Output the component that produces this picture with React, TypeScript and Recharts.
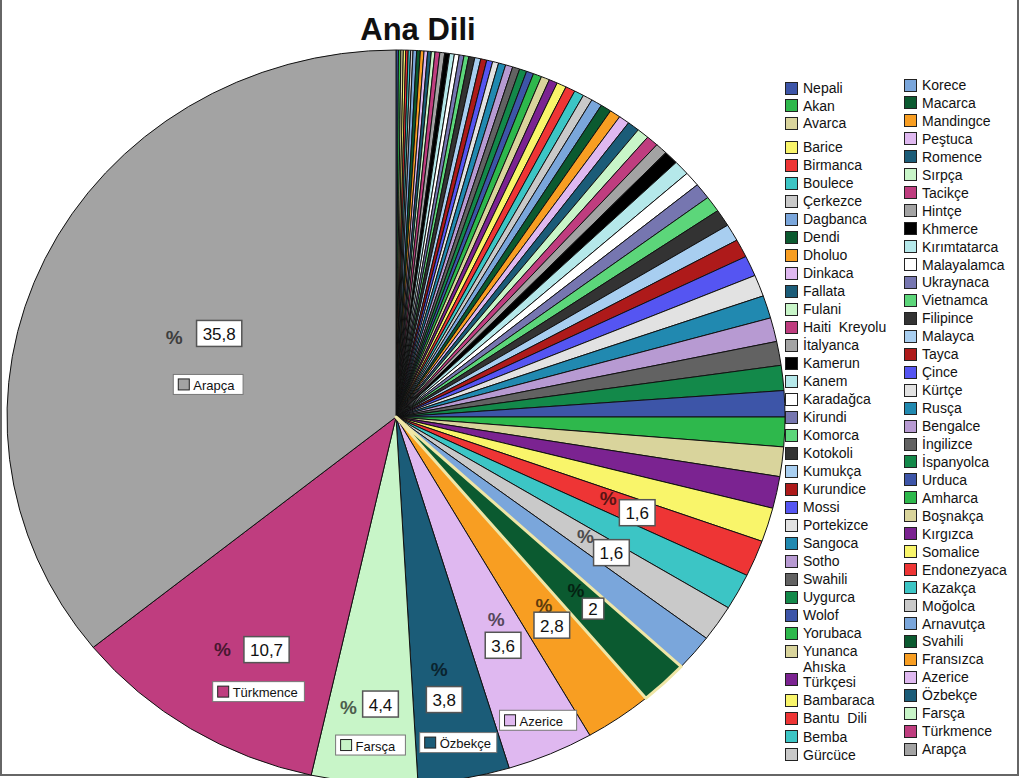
import React from 'react';
import { PieChart, Pie, Cell } from 'recharts';

// legend columns, in slice order (clockwise from 12 o'clock)
const leftColumn = [
  'Nepali', 'Akan', 'Avarca', 'Barice', 'Birmanca', 'Boulece', 'Çerkezce', 'Dagbanca', 'Dendi',
  'Dholuo', 'Dinkaca', 'Fallata', 'Fulani', 'Haiti  Kreyolu', 'İtalyanca', 'Kamerun', 'Kanem',
  'Karadağca', 'Kirundi', 'Komorca', 'Kotokoli', 'Kumukça', 'Kurundice', 'Mossi', 'Portekizce',
  'Sangoca', 'Sotho', 'Swahili', 'Uygurca', 'Wolof', 'Yorubaca', 'Yunanca', 'Ahıska Türkçesi',
  'Bambaraca', 'Bantu  Dili', 'Bemba', 'Gürcüce',
];
const rightColumn = [
  'Korece', 'Macarca', 'Mandingce', 'Peştuca', 'Romence', 'Sırpça', 'Tacikçe', 'Hintçe', 'Khmerce',
  'Kırımtatarca', 'Malayalamca', 'Ukraynaca', 'Vietnamca', 'Filipince', 'Malayca', 'Tayca', 'Çince',
  'Kürtçe', 'Rusça', 'Bengalce', 'İngilizce', 'İspanyolca', 'Urduca', 'Amharca', 'Boşnakça',
  'Kırgızca', 'Somalice', 'Endonezyaca', 'Kazakça', 'Moğolca', 'Arnavutça', 'Svahili', 'Fransızca',
  'Azerice', 'Özbekçe', 'Farsça', 'Türkmence', 'Arapça',
];
const languages = [...leftColumn, ...rightColumn];

// percentages
const shares = [
  0.1, 0.1, 0.1, 0.1, 0.1, 0.1, 0.1, 0.15, 0.15, 0.15, 0.15, 0.15, 0.15, 0.2, 0.2, 0.2, 0.2, 0.2,
  0.2, 0.2, 0.25, 0.25, 0.25, 0.25, 0.25, 0.3, 0.3, 0.3, 0.3, 0.3, 0.35, 0.35, 0.35, 0.4, 0.4, 0.4,
  0.4, 0.45, 0.45, 0.45, 0.45, 0.5, 0.5, 0.5, 0.5, 0.6, 0.65, 0.65, 0.7, 0.7, 0.75, 0.75, 0.8, 0.9,
  0.95, 1.0, 1.05, 1.05, 1.1, 1.15, 1.3, 1.3, 1.4, 1.5, 1.6, 1.6, 1.6, 1.6, 2, 2.8, 3.6, 3.8, 4.4,
  10.7, 35.8,
];

const c = {
  blue: '#3d55a8', green: '#2eb84c', tan: '#d9d49c', yellow: '#f9f56a', red: '#ee3535',
  teal: '#3cc5c5', lgray: '#c9c9c9', lblue: '#7aa6db', dgreen: '#0b5a30', orange: '#f89e22',
  lavender: '#dfb8f0', dteal: '#1b5c78', lgreen: '#c8f5c8', magenta: '#bf3d7f', gray: '#a3a3a3',
  black: '#000000', lcyan: '#b5e8ea', white: '#ffffff', slate: '#7676b0', mgreen: '#5cd67a',
  dgray: '#333333', sky: '#a8cef0', dred: '#ae1a1a', vblue: '#5555f2', vlgray: '#e2e2e2',
  tblue: '#2189b0', lilac: '#b79ad2', mgray: '#626262', sgreen: '#13894a', purple: '#7b2391',
};
const cycle = [
  c.green, c.tan, c.purple, c.yellow, c.red, c.teal, c.lgray, c.lblue, c.dgreen, c.orange,
  c.lavender, c.dteal, c.lgreen, c.magenta, c.gray, c.black, c.lcyan, c.white, c.slate, c.mgreen,
  c.dgray, c.sky, c.dred, c.vblue, c.vlgray, c.tblue, c.lilac, c.mgray, c.sgreen, c.blue,
];
const sliceColors = languages.map((_, i) =>
  i === 0 ? c.blue : i === 1 ? c.green : i === 2 ? c.tan : cycle[i % 30]
);

const data = languages.map((name, i) => ({ name, value: shares[i] }));

// label placement: radius of value box, nudge, % offset, name box offset
const labelLayout: Record<string, { r: number; nudge: [number, number]; pct: [number, number]; tag?: [number, number] }> = {
  'Arapça': { r: 196, nudge: [0, 1], pct: [-45, 4], tag: [-11, 51] },
  'Türkmence': { r: 268, nudge: [12, 5], pct: [-44, 0], tag: [-8, 42] },
  'Farsça': { r: 288, nudge: [8, 0], pct: [-32, 3], tag: [-10, 41] },
  'Özbekçe': { r: 287, nudge: [-2, 0], pct: [-5, -30], tag: [14, 43] },
  'Azerice': { r: 252, nudge: [7, -3], pct: [-7, -26], tag: [35, 75] },
  'Fransızca': { r: 260, nudge: [7, -5], pct: [-8, -20] },
  'Svahili': { r: 270, nudge: [11, -4], pct: [-17, -18] },
  'Moğolca': { r: 252, nudge: [7, -6], pct: [-26, -16] },
  'Endonezyaca': { r: 256, nudge: [5, -3], pct: [-29, -14] },
};

const FONT = 'Arial, "Liberation Sans", sans-serif';
const RAD = Math.PI / 180;
const STRETCH = 389 / 367; // the original pie is a little wider than tall

const darken = (hex: string, k: number) => {
  const n = parseInt(hex.slice(1), 16);
  const r = Math.round(((n >> 16) & 255) * k);
  const g = Math.round(((n >> 8) & 255) * k);
  const b = Math.round((n & 255) * k);
  return `rgb(${r},${g},${b})`;
};

const OvalSector = (props: any) => {
  const { cx, cy, outerRadius, startAngle, endAngle, fill, stroke, strokeWidth } = props;
  const ry = outerRadius;
  const rx = outerRadius * STRETCH;
  const pt = (a: number) => [cx + rx * Math.cos(a * RAD), cy - ry * Math.sin(a * RAD)];
  const [x1, y1] = pt(startAngle);
  const [x2, y2] = pt(endAngle);
  const large = Math.abs(startAngle - endAngle) > 180 ? 1 : 0;
  const sweep = startAngle > endAngle ? 1 : 0;
  return (
    <path d={`M${cx},${cy}L${x1},${y1}A${rx},${ry} 0 ${large} ${sweep} ${x2},${y2}Z`}
      fill={fill} stroke={stroke} strokeWidth={strokeWidth} strokeLinejoin="round" />
  );
};

const renderLabel = (props: any) => {
  const { cx, cy, midAngle, index, value } = props;
  const name = languages[index];
  const cfg = labelLayout[name];
  if (!cfg) return null;
  const x = cx + cfg.r * Math.cos(-midAngle * RAD) + cfg.nudge[0];
  const y = cy + cfg.r * Math.sin(-midAngle * RAD) + cfg.nudge[1];
  const txt = String(value).replace('.', ',');
  const digits = txt.replace(',', '').length;
  const w = digits * 9.5 + (txt.includes(',') ? 4.7 : 0) + 12;
  const h = txt.length === 1 ? 21 : 26;
  const tagW = name.length * 7.3 + 26;
  return (
    <g key={`lbl-${index}`}>
      <text x={x + cfg.pct[0]} y={y + cfg.pct[1]} textAnchor="middle" dominantBaseline="central"
        fontFamily={FONT} fontSize={19} fontWeight="bold" fill={darken(sliceColors[index], 0.38)}>%</text>
      <rect x={x - w / 2} y={y - h / 2} width={w} height={h} fill="#fff" stroke="#555" strokeWidth={1.5} />
      <text x={x} y={y + 1} textAnchor="middle" dominantBaseline="central" fontFamily={FONT}
        fontSize={17} fill="#111">{txt}</text>
      {cfg.tag && (
        <g>
          <rect x={x + cfg.tag[0] - tagW / 2} y={y + cfg.tag[1] - 10} width={tagW} height={20}
            fill="#fff" stroke="#777" strokeWidth={1} />
          <rect x={x + cfg.tag[0] - tagW / 2 + 5} y={y + cfg.tag[1] - 5.5} width={11} height={11}
            fill={sliceColors[index]} stroke="#222" strokeWidth={1} />
          <text x={x + cfg.tag[0] - tagW / 2 + 20} y={y + cfg.tag[1] + 1} dominantBaseline="central"
            fontFamily={FONT} fontSize={13} fill="#111">{name}</text>
        </g>
      )}
    </g>
  );
};

const legendTop = (i: number) => {
  if (i < leftColumn.length) {
    if (i < 3) return 88 + 17.5 * i;
    if (i <= 31) return 147 + 18 * (i - 3);
    if (i === 32) return 675;
    return 700 + 18.3 * (i - 33);
  }
  return 85 + 17.95 * (i - leftColumn.length);
};

const App: React.FC = () => {
  return (
    <div style={{ position: 'absolute', left: 0, top: 0, width: 1019, height: 778, background: '#fff', fontFamily: FONT }}>
      <div style={{ position: 'absolute', left: 0, top: 0, width: 1015, height: 774, borderLeft: '2px solid #666', borderRight: '2px solid #666', borderBottom: '2px solid #666' }} />
      <div style={{ position: 'absolute', left: 300, top: 12, width: 236, textAlign: 'center', fontSize: 31, fontWeight: 'bold', color: '#111' }}>
        Ana Dili
      </div>
      <PieChart width={1019} height={778} margin={{ top: 0, right: 0, bottom: 0, left: 0 }}
        style={{ position: 'absolute', left: 0, top: 0 }}>
        <Pie data={data} dataKey="value" nameKey="name" cx={396} cy={417} outerRadius={367}
          startAngle={90} endAngle={-270} stroke="#111" strokeWidth={1} isAnimationActive={false}
          shape={OvalSector} label={renderLabel} labelLine={false}>
          {data.map((d, i) => (
            <Cell key={`cell-${i}`} fill={sliceColors[i]} />
          ))}
        </Pie>
        <Pie data={data} dataKey="value" nameKey="name" cx={396} cy={417} outerRadius={367}
          startAngle={90} endAngle={-270} isAnimationActive={false} legendType="none" shape={OvalSector}>
          {data.map((d, i) => (
            <Cell key={`hl-${i}`} fill="none"
              stroke={d.name === 'Svahili' ? '#efe6a6' : 'none'} strokeWidth={3} />
          ))}
        </Pie>
      </PieChart>
      {languages.map((name, i) => {
        const right = i >= leftColumn.length;
        const top = legendTop(i);
        const multi = name === 'Ahıska Türkçesi';
        return (
          <div key={name} style={{ position: 'absolute', left: right ? 904 : 785, top: top - 7, display: 'flex', alignItems: 'center' }}>
            <div style={{ width: 11, height: 11, background: sliceColors[i], border: '1px solid #222', flexShrink: 0 }} />
            <div style={{ marginLeft: 5, fontSize: 14, color: '#111', lineHeight: multi ? '15px' : '14px', whiteSpace: multi ? 'normal' : 'pre', width: multi ? 70 : undefined, marginTop: multi ? -8 : 0 }}>
              {name}
            </div>
          </div>
        );
      })}
    </div>
  );
};

export default App;
